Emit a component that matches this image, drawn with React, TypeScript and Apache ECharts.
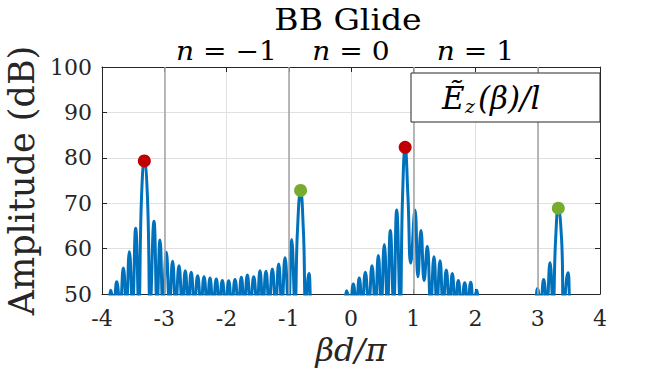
import React, { useEffect, useRef } from 'react';
import * as echarts from 'echarts';

// Trace of |E_z(beta)|/l in dB (values of 47.5 = nulls below the 50 dB floor)
const traceX = [
  -4.0, -3.9, -3.86, -3.81, -3.764, -3.71, -3.657, -3.61, -3.56, -3.51, -3.459, -3.41, -3.365, -3.32, -3.27, -3.225,
  -3.165, -3.115, -3.068, -3.02, -2.967, -2.915, -2.866, -2.815, -2.763, -2.71, -2.662, -2.615,
  -2.567, -2.515, -2.464, -2.41, -2.361, -2.31, -2.265, -2.215, -2.164, -2.115, -2.067, -2.015,
  -1.965, -1.915, -1.863, -1.81, -1.762, -1.715, -1.665, -1.615, -1.563, -1.51, -1.462, -1.415,
  -1.366, -1.315, -1.264, -1.21, -1.162, -1.11, -1.06, -1.005, -0.953, -0.9, -0.86, -0.81, -0.765, -0.725,
  -0.675, -0.62, -0.12, -0.07, -0.015, 0.037, 0.085, 0.133, 0.18, 0.23, 0.285, 0.337, 0.39, 0.439,
  0.485, 0.535, 0.585, 0.632, 0.685, 0.734, 0.79, 0.828, 0.87, 0.915, 0.96, 1.028, 1.075, 1.124, 1.175, 1.225,
  1.28, 1.333, 1.38, 1.43, 1.48, 1.531, 1.58, 1.628, 1.675, 1.724, 1.775, 1.827, 1.875, 1.923,
  1.97, 2.02, 2.07, 2.94, 2.994, 3.045, 3.095, 3.145, 3.197, 3.245, 3.287, 3.33, 3.383, 3.42, 3.486, 3.54, 4.0,
];
const traceY = [
  47.5, 47.5, 50.8, 47.5, 52.7, 47.5, 55.7, 47.5, 59.3, 47.5, 64.5, 47.5, 71.4, 79.3, 71.4, 47.5,
  66.0, 47.5, 61.9, 47.5, 59.2, 47.5, 57.2, 47.5, 56.2, 47.5, 55.1, 47.5,
  54.8, 47.5, 54.0, 47.5, 53.8, 47.5, 53.5, 47.5, 53.3, 47.5, 53.0, 47.5,
  52.9, 47.5, 53.2, 47.5, 53.7, 47.5, 54.2, 47.5, 53.8, 47.5, 55.1, 47.5,
  55.0, 47.5, 55.5, 47.5, 56.6, 47.5, 58.0, 47.5, 62.0, 47.5, 64.0, 72.8, 64.0, 47.5,
  54.5, 47.5, 47.5, 50.7, 47.5, 52.2, 47.5, 53.5, 47.5, 54.8, 47.5, 56.2, 47.5, 58.5,
  47.5, 60.9, 47.5, 64.0, 47.5, 68.5, 47.5, 71.4, 82.3, 71.4, 56.8, 68.5, 53.8, 64.0, 53.0, 60.5,
  47.5, 58.2, 47.5, 57.3, 47.5, 55.3, 47.5, 54.5, 47.5, 53.0, 47.5, 52.5, 47.5, 52.6,
  47.5, 50.8, 47.5, 47.5, 51.2, 47.5, 53.2, 47.5, 56.9, 47.5, 62.0, 68.9, 62.0, 47.5, 54.7, 47.5, 47.5,
];

// Marked peaks
const redPeakX = [-3.32, 0.87];
const redPeakY = [79.3, 82.3];
const greenPeakX = [-0.81, 3.33];
const greenPeakY = [72.8, 68.9];

// Harmonic boundaries and labels
const boundaryX = [-3, -1, 1, 3];
const harmonicX = [-2, 0, 2];
const harmonicN = ['−1', '0', '1'];

const FONT = 'DejaVu Serif';
const AXIS = '#262626';

export default function App() {
  const ref = useRef<HTMLDivElement>(null);
  useEffect(() => {
    document.body.style.margin = '0';
    const chart = echarts.init(ref.current!, null, { renderer: 'svg' });
    const curve = traceX.map((x, i) => [x, traceY[i]]);
    const axisCommon = { min: -4, max: 4, interval: 1 };
    const option: any = {
      animation: false,
      backgroundColor: '#ffffff',
      grid: { left: 102, right: 64, top: 67, bottom: 78, containLabel: false, outerBoundsMode: 'none' },
      xAxis: [
        {
          type: 'value',
          position: 'bottom',
          ...axisCommon,
          axisLine: { show: true, onZero: false, lineStyle: { color: AXIS, width: 1 } },
          axisTick: { show: true, inside: true, length: 5, lineStyle: { color: AXIS } },
          axisLabel: { color: AXIS, fontFamily: FONT, fontSize: 22, margin: 13 },
          splitLine: { show: true, lineStyle: { color: '#e0e0e0', width: 1 } },
          name: 'βd/π',
          nameLocation: 'middle',
          nameGap: 38,
          nameTextStyle: { fontFamily: FONT, fontStyle: 'italic', fontSize: 32, color: AXIS },
        },
        {
          type: 'value',
          position: 'top',
          ...axisCommon,
          axisLine: { show: true, onZero: false, lineStyle: { color: AXIS, width: 1 } },
          axisTick: { show: true, inside: true, length: 5, lineStyle: { color: AXIS } },
          axisLabel: { show: false },
          splitLine: { show: false },
        },
      ],
      yAxis: [
        {
          type: 'value',
          position: 'left',
          min: 50,
          max: 100,
          interval: 10,
          axisLine: { show: true, onZero: false, lineStyle: { color: AXIS, width: 1 } },
          axisTick: { show: true, inside: true, length: 5, lineStyle: { color: AXIS } },
          axisLabel: { color: AXIS, fontFamily: FONT, fontSize: 22, margin: 10 },
          splitLine: { show: true, lineStyle: { color: '#e0e0e0', width: 1 } },
          name: 'Amplitude (dB)',
          nameLocation: 'middle',
          nameGap: 52,
          nameTextStyle: { fontFamily: FONT, fontSize: 35, color: AXIS },
        },
        {
          type: 'value',
          position: 'right',
          min: 50,
          max: 100,
          interval: 10,
          axisLine: { show: true, onZero: false, lineStyle: { color: AXIS, width: 1 } },
          axisTick: { show: true, inside: true, length: 5, lineStyle: { color: AXIS } },
          axisLabel: { show: false },
          splitLine: { show: false },
        },
      ],
      series: [
        {
          type: 'line',
          name: 'boundaries',
          data: [],
          z: 1,
          silent: true,
          markLine: {
            silent: true,
            symbol: ['none', 'none'],
            label: { show: false },
            lineStyle: { color: '#a8a8a8', width: 1.6, type: 'solid' },
            data: boundaryX.map((x) => ({ xAxis: x })),
          },
        },
        {
          type: 'line',
          name: 'Ez',
          data: curve,
          showSymbol: false,
          smooth: 0.5,
          clip: true,
          z: 3,
          lineStyle: { color: '#0072BD', width: 3, join: 'round' },
        },
        {
          type: 'scatter',
          data: redPeakX.map((x, i) => [x, redPeakY[i]]),
          symbolSize: 13,
          itemStyle: { color: '#C00000', opacity: 1 },
          z: 4,
        },
        {
          type: 'scatter',
          data: greenPeakX.map((x, i) => [x, greenPeakY[i]]),
          symbolSize: 13,
          itemStyle: { color: '#77AC30', opacity: 1 },
          z: 4,
        },
      ],
    };
    chart.setOption(option);

    const cx = chart.convertToPixel({ xAxisIndex: 0 }, 0) as number;
    const textStyle = (extra: any) => ({
      fill: '#000',
      fontFamily: FONT,
      align: 'left',
      verticalAlign: 'middle',
      textAlign: 'left',
      textVerticalAlign: 'middle',
      ...extra,
    });
    const graphics: any[] = [
      {
        type: 'text',
        x: cx - 3,
        y: 20,
        z: 10,
        scaleX: 1.14,
        style: textStyle({ text: 'BB Glide', fontSize: 29, align: 'center', textAlign: 'center' }),
      },
      ...harmonicX.map((xv, i) => ({
        type: 'text',
        x: chart.convertToPixel({ xAxisIndex: 0 }, xv) as number,
        y: 51,
        z: 10,
        scaleX: 1.08,
        style: textStyle({
          text: '{i|n} = ' + harmonicN[i],
          fontSize: 26,
          align: 'center',
          textAlign: 'center',
          rich: { i: { fontFamily: FONT, fontStyle: 'italic', fontSize: 26, fill: '#000' } },
        }),
      })),
      {
        type: 'rect',
        z: 10,
        shape: { x: 411, y: 73, width: 189, height: 49 },
        style: { fill: '#ffffff', stroke: AXIS, lineWidth: 1 },
      },
      {
        type: 'text',
        x: 442,
        y: 98,
        z: 11,
        style: textStyle({ text: 'Ẽ', fontStyle: 'italic', fontSize: 31 }),
      },
      {
        type: 'text',
        x: 465,
        y: 106,
        z: 11,
        style: textStyle({ text: 'z', fontStyle: 'italic', fontSize: 19 }),
      },
      {
        type: 'text',
        x: 478,
        y: 98,
        z: 11,
        style: textStyle({ text: '(β)/l', fontStyle: 'italic', fontSize: 31 }),
      },
    ];
    chart.setOption({ graphic: graphics });
    return () => chart.dispose();
  }, []);
  return <div ref={ref} style={{ width: 664, height: 372, position: 'absolute', left: 0, top: 0 }} />;
}
